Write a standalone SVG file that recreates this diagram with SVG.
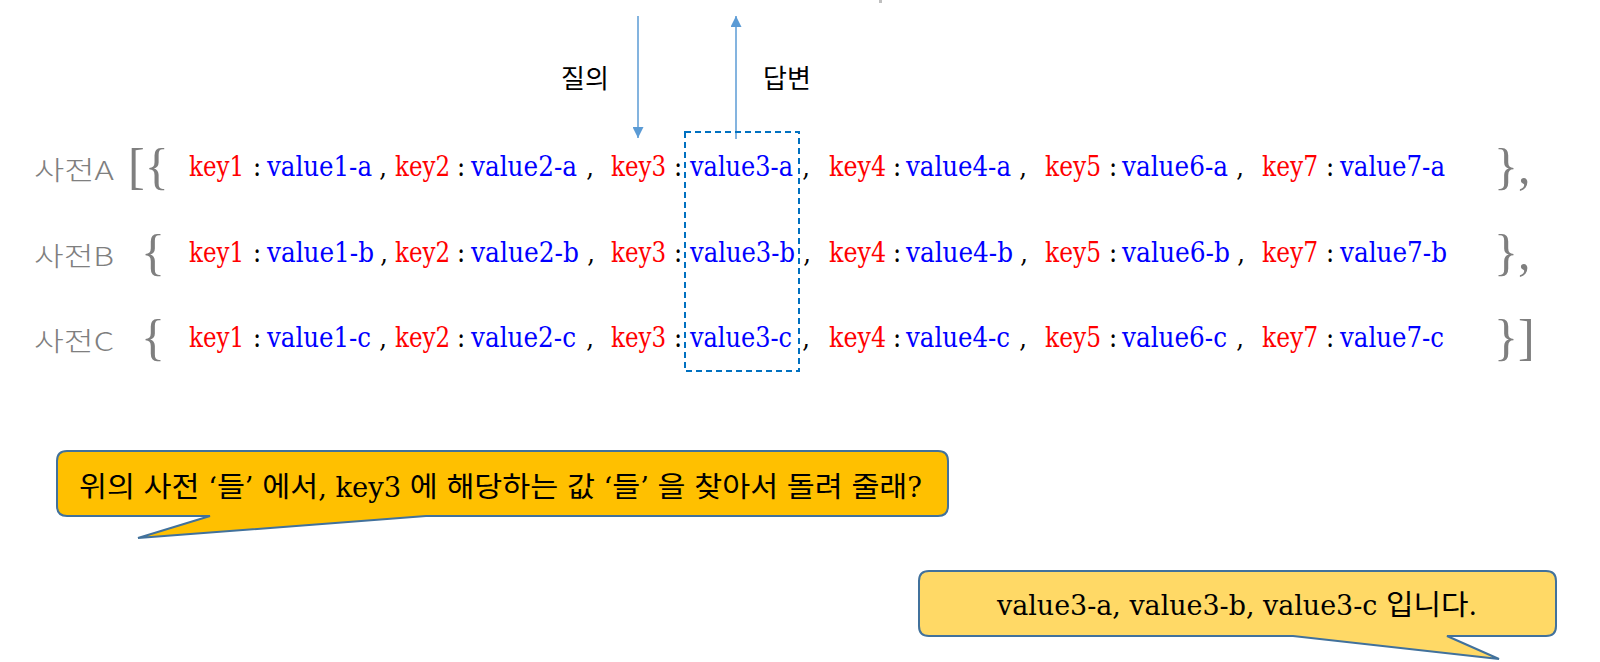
<svg xmlns="http://www.w3.org/2000/svg" width="1600" height="662" viewBox="0 0 1600 662">
<style>
.t{font-family:'DejaVu Serif Condensed','DejaVu Serif','Noto Sans CJK KR',serif;font-size:27px;font-stretch:condensed}
.k{fill:#FF0000}
.v{fill:#0000FF}
.p{fill:#000000;text-anchor:middle}
.lbl{font-family:'Noto Sans CJK KR',sans-serif;font-size:26px;fill:#7F7F7F;font-weight:300}
.br{font-family:'Liberation Serif',serif;font-size:50px;fill:#7F7F7F}
.q{font-family:'Noto Sans CJK KR',sans-serif;font-size:26px;fill:#000;text-anchor:middle}
.bub{font-family:'DejaVu Serif Condensed','DejaVu Serif','Noto Sans CJK KR',sans-serif;font-size:28px;fill:#000;font-stretch:condensed}
.bubble{stroke:#41719C;stroke-width:2}
.arr{stroke:#5B9BD5;stroke-width:1.5;fill:none}
</style>
<defs>
<marker id="ah" viewBox="0 0 10 10" refX="10" refY="5" markerWidth="11" markerHeight="11" markerUnits="userSpaceOnUse" orient="auto">
<path d="M0,0 L10,5 L0,10 Z" fill="#5B9BD5"/>
</marker>
</defs>
<rect x="879" y="0" width="3" height="3" fill="#BFBFBF"/>
<g id="connectors">
<line class="arr" x1="638" y1="16" x2="638" y2="138" marker-end="url(#ah)"/>
<line class="arr" x1="736" y1="139" x2="736" y2="16" marker-end="url(#ah)"/>
</g>
<g id="label-query"><text class="q" x="585" y="88">질의</text></g>
<g id="label-answer"><text class="q" x="787" y="88">답변</text></g>
<g id="dict-a">
<text class="lbl" x="34" y="180" textLength="80" lengthAdjust="spacingAndGlyphs">사전A</text>
<text class="br" x="128" y="183">[{</text>
<text class="t k" x="189" y="176" textLength="55" lengthAdjust="spacingAndGlyphs">key1</text>
<text class="t p" x="257" y="176">:</text>
<text class="t v" x="267" y="176" textLength="105" lengthAdjust="spacingAndGlyphs">value1-a</text>
<text class="t p" x="383" y="176">,</text>
<text class="t k" x="395" y="176" textLength="55" lengthAdjust="spacingAndGlyphs">key2</text>
<text class="t p" x="461" y="176">:</text>
<text class="t v" x="471" y="176" textLength="106" lengthAdjust="spacingAndGlyphs">value2-a</text>
<text class="t p" x="590" y="176">,</text>
<text class="t k" x="611" y="176" textLength="55" lengthAdjust="spacingAndGlyphs">key3</text>
<text class="t p" x="678" y="176">:</text>
<text class="t v" x="690" y="176" textLength="103" lengthAdjust="spacingAndGlyphs">value3-a</text>
<text class="t p" x="806" y="176">,</text>
<text class="t k" x="829" y="176" textLength="57" lengthAdjust="spacingAndGlyphs">key4</text>
<text class="t p" x="897" y="176">:</text>
<text class="t v" x="906" y="176" textLength="105" lengthAdjust="spacingAndGlyphs">value4-a</text>
<text class="t p" x="1023" y="176">,</text>
<text class="t k" x="1045" y="176" textLength="56" lengthAdjust="spacingAndGlyphs">key5</text>
<text class="t p" x="1113" y="176">:</text>
<text class="t v" x="1122" y="176" textLength="106" lengthAdjust="spacingAndGlyphs">value6-a</text>
<text class="t p" x="1240" y="176">,</text>
<text class="t k" x="1262" y="176" textLength="56" lengthAdjust="spacingAndGlyphs">key7</text>
<text class="t p" x="1330" y="176">:</text>
<text class="t v" x="1340" y="176" textLength="105" lengthAdjust="spacingAndGlyphs">value7-a</text>
<text class="br" x="1494" y="183">},</text>
</g>
<g id="dict-b">
<text class="lbl" x="34" y="266" textLength="80" lengthAdjust="spacingAndGlyphs">사전B</text>
<text class="br" x="141" y="269">{</text>
<text class="t k" x="189" y="262" textLength="55" lengthAdjust="spacingAndGlyphs">key1</text>
<text class="t p" x="257" y="262">:</text>
<text class="t v" x="267" y="262" textLength="107" lengthAdjust="spacingAndGlyphs">value1-b</text>
<text class="t p" x="384" y="262">,</text>
<text class="t k" x="395" y="262" textLength="55" lengthAdjust="spacingAndGlyphs">key2</text>
<text class="t p" x="461" y="262">:</text>
<text class="t v" x="471" y="262" textLength="108" lengthAdjust="spacingAndGlyphs">value2-b</text>
<text class="t p" x="591" y="262">,</text>
<text class="t k" x="611" y="262" textLength="55" lengthAdjust="spacingAndGlyphs">key3</text>
<text class="t p" x="678" y="262">:</text>
<text class="t v" x="690" y="262" textLength="105" lengthAdjust="spacingAndGlyphs">value3-b</text>
<text class="t p" x="807" y="262">,</text>
<text class="t k" x="829" y="262" textLength="57" lengthAdjust="spacingAndGlyphs">key4</text>
<text class="t p" x="897" y="262">:</text>
<text class="t v" x="906" y="262" textLength="107" lengthAdjust="spacingAndGlyphs">value4-b</text>
<text class="t p" x="1024" y="262">,</text>
<text class="t k" x="1045" y="262" textLength="56" lengthAdjust="spacingAndGlyphs">key5</text>
<text class="t p" x="1113" y="262">:</text>
<text class="t v" x="1122" y="262" textLength="108" lengthAdjust="spacingAndGlyphs">value6-b</text>
<text class="t p" x="1241" y="262">,</text>
<text class="t k" x="1262" y="262" textLength="56" lengthAdjust="spacingAndGlyphs">key7</text>
<text class="t p" x="1330" y="262">:</text>
<text class="t v" x="1340" y="262" textLength="107" lengthAdjust="spacingAndGlyphs">value7-b</text>
<text class="br" x="1494" y="269">},</text>
</g>
<g id="dict-c">
<text class="lbl" x="34" y="351" textLength="80" lengthAdjust="spacingAndGlyphs">사전C</text>
<text class="br" x="141" y="354">{</text>
<text class="t k" x="189" y="347" textLength="55" lengthAdjust="spacingAndGlyphs">key1</text>
<text class="t p" x="257" y="347">:</text>
<text class="t v" x="267" y="347" textLength="104" lengthAdjust="spacingAndGlyphs">value1-c</text>
<text class="t p" x="383" y="347">,</text>
<text class="t k" x="395" y="347" textLength="55" lengthAdjust="spacingAndGlyphs">key2</text>
<text class="t p" x="461" y="347">:</text>
<text class="t v" x="471" y="347" textLength="105" lengthAdjust="spacingAndGlyphs">value2-c</text>
<text class="t p" x="590" y="347">,</text>
<text class="t k" x="611" y="347" textLength="55" lengthAdjust="spacingAndGlyphs">key3</text>
<text class="t p" x="678" y="347">:</text>
<text class="t v" x="690" y="347" textLength="102" lengthAdjust="spacingAndGlyphs">value3-c</text>
<text class="t p" x="806" y="347">,</text>
<text class="t k" x="829" y="347" textLength="57" lengthAdjust="spacingAndGlyphs">key4</text>
<text class="t p" x="897" y="347">:</text>
<text class="t v" x="906" y="347" textLength="104" lengthAdjust="spacingAndGlyphs">value4-c</text>
<text class="t p" x="1023" y="347">,</text>
<text class="t k" x="1045" y="347" textLength="56" lengthAdjust="spacingAndGlyphs">key5</text>
<text class="t p" x="1113" y="347">:</text>
<text class="t v" x="1122" y="347" textLength="105" lengthAdjust="spacingAndGlyphs">value6-c</text>
<text class="t p" x="1240" y="347">,</text>
<text class="t k" x="1262" y="347" textLength="56" lengthAdjust="spacingAndGlyphs">key7</text>
<text class="t p" x="1330" y="347">:</text>
<text class="t v" x="1340" y="347" textLength="104" lengthAdjust="spacingAndGlyphs">value7-c</text>
<text class="br" x="1494" y="354">}]</text>
</g>
<g id="selection">
<rect x="685" y="132" width="114" height="239" fill="none" stroke="#0070C0" stroke-width="2" stroke-dasharray="6 4"/>
</g>
<g id="bubble-question">
<path class="bubble" fill="#FFC000" d="M67,451 H938 Q948,451 948,461 V506 Q948,516 938,516 H426 L138,538 L210,516 H67 Q57,516 57,506 V461 Q57,451 67,451 Z"/>
<text class="bub" x="79" y="497" textLength="843" lengthAdjust="spacingAndGlyphs">위의 사전 ‘들’ 에서, key3 에 해당하는 값 ‘들’ 을 찾아서 돌려 줄래?</text>
</g>
<g id="bubble-answer">
<path class="bubble" fill="#FFD966" d="M929,571 H1546 Q1556,571 1556,581 V626 Q1556,636 1546,636 H1447 L1499,659 L1293,636 H929 Q919,636 919,626 V581 Q919,571 929,571 Z"/>
<text class="bub" x="997" y="615" textLength="480" lengthAdjust="spacingAndGlyphs">value3-a, value3-b, value3-c 입니다.</text>
</g>
</svg>
